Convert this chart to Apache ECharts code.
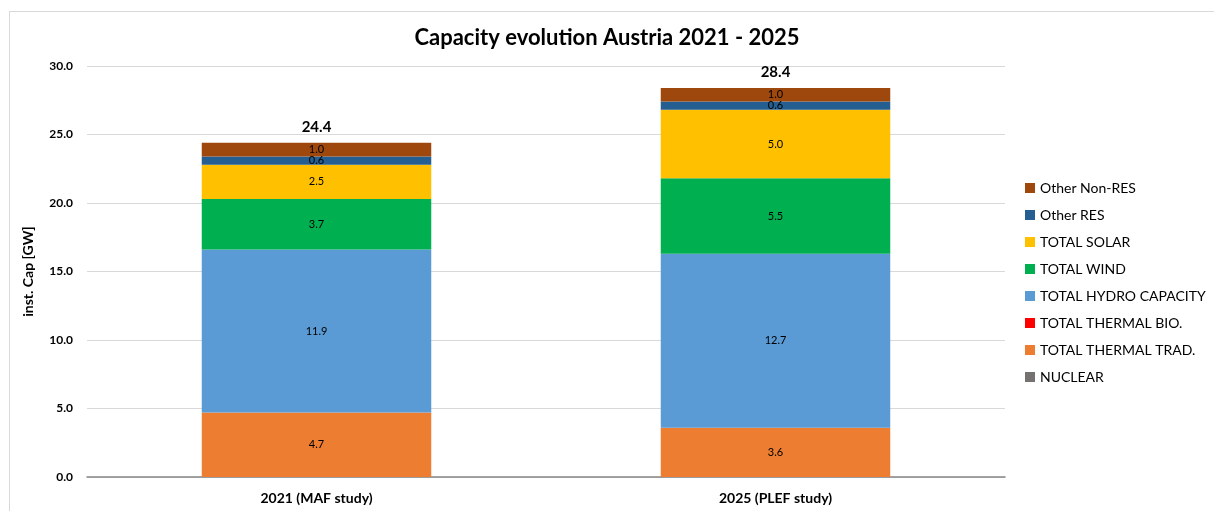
<!DOCTYPE html>
<html>
<head>
<meta charset="utf-8">
<script src="https://cdn.jsdelivr.net/npm/echarts@6/dist/echarts.min.js"></script>
<style>
  html, body { margin: 0; padding: 0; background: #fff; }
  #frame { position: absolute; left: 9px; top: 11px; width: 1205px; height: 500px; border-left: 1px solid #d9d9d9; border-top: 1px solid #d9d9d9; }
  #chart { position: absolute; left: 0; top: 0; width: 1214px; height: 511px; }
</style>
</head>
<body>
<div id="frame"></div>
<div id="chart"></div>
<script>
const categories = ["2021 (MAF study)", "2025 (PLEF study)"];
const nuclear = [0, 0];
const thermalTrad = [4.7, 3.6];
const thermalBio = [0, 0];
const hydro = [11.9, 12.7];
const wind = [3.7, 5.5];
const solar = [2.5, 5.0];
const otherRes = [0.6, 0.6];
const otherNonRes = [1.0, 1.0];
const totals = [24.4, 28.4];

const font = "Lato";
const myChart = echarts.init(document.getElementById("chart"));

function seg(name, data, color) {
  return {
    name: name,
    type: "bar",
    stack: "cap",
    barWidth: "50%",
    data: data,
    itemStyle: { color: color },
    label: {
      show: true,
      position: "inside",
      color: "#000",
      fontFamily: font,
      fontSize: 11,
      formatter: p => (p.value > 0 ? p.value.toFixed(1) : "")
    }
  };
}

const series = [
  seg("NUCLEAR", nuclear, "#767171"),
  seg("TOTAL THERMAL TRAD.", thermalTrad, "#ED7D31"),
  seg("TOTAL THERMAL BIO.", thermalBio, "#FF0000"),
  seg("TOTAL HYDRO CAPACITY", hydro, "#5B9BD5"),
  seg("TOTAL WIND", wind, "#00B050"),
  seg("TOTAL SOLAR", solar, "#FFC000"),
  seg("Other RES", otherRes, "#255E91"),
  seg("Other Non-RES", otherNonRes, "#9E480E"),
  {
    name: "Total",
    type: "bar",
    stack: "cap",
    barWidth: "50%",
    data: totals.map(() => 0),
    itemStyle: { color: "transparent" },
    label: {
      show: true,
      position: "top",
      distance: 8,
      color: "#000",
      fontFamily: font,
      fontSize: 15,
      fontWeight: "bold",
      formatter: p => totals[p.dataIndex].toFixed(1)
    }
  }
];

const option = {
  animation: false,
  title: {
    text: "Capacity evolution Austria 2021 - 2025",
    left: "center",
    top: 22,
    textStyle: { fontFamily: font, fontSize: 22, fontWeight: "bold", color: "#000" }
  },
  legend: {
    data: ["Other Non-RES", "Other RES", "TOTAL SOLAR", "TOTAL WIND", "TOTAL HYDRO CAPACITY", "TOTAL THERMAL BIO.", "TOTAL THERMAL TRAD.", "NUCLEAR"],
    orient: "vertical",
    left: 1020,
    top: 176,
    itemWidth: 10,
    itemHeight: 10,
    itemGap: 13,
    icon: "rect",
    textStyle: { fontFamily: font, fontSize: 14, color: "#000" }
  },
  grid: { left: 87, right: 209, top: 66, bottom: 34 },
  xAxis: {
    type: "category",
    data: categories,
    axisTick: { show: false },
    axisLine: { lineStyle: { color: "#868686", width: 1.5 } },
    axisLabel: { fontFamily: font, fontSize: 14, fontWeight: "bold", color: "#000", margin: 14 }
  },
  yAxis: {
    type: "value",
    min: 0,
    max: 30,
    interval: 5,
    name: "inst. Cap [GW]",
    nameLocation: "middle",
    nameGap: 52,
    nameTextStyle: { fontFamily: font, fontSize: 14, fontWeight: "bold", color: "#000" },
    axisLabel: { fontFamily: font, fontSize: 12, fontWeight: "bold", color: "#000", margin: 14, formatter: v => v.toFixed(1) },
    splitLine: { lineStyle: { color: "#d9d9d9" } },
    axisLine: { show: false },
    axisTick: { show: false }
  },
  series: series
};

myChart.setOption(option);
window.addEventListener("resize", () => myChart.resize());
</script>
</body>
</html>
